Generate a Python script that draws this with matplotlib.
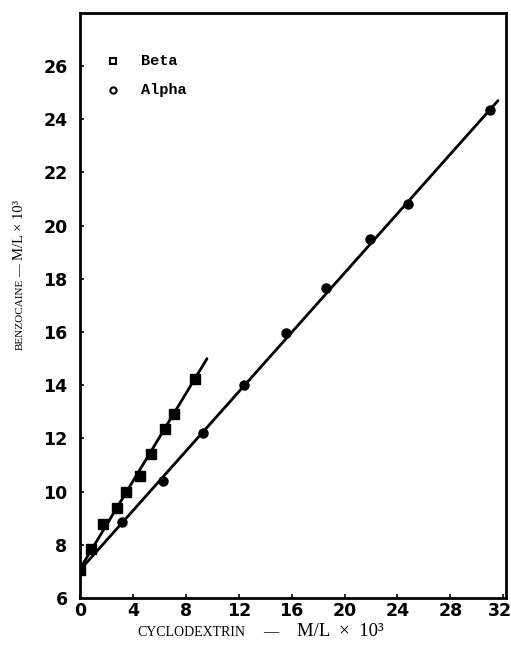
import matplotlib.pyplot as plt
from matplotlib.transforms import ScaledTranslation

# cyclodextrin concentration (M/L x 10^3) vs benzocaine solubility (M/L x 10^3)
beta_x = [0, 0.8, 1.7, 2.8, 3.5, 4.5, 5.4, 6.4, 7.1, 8.7]
beta_y = [7.05, 7.85, 8.8, 9.4, 10.0, 10.6, 11.4, 12.35, 12.9, 14.25]
alpha_x = [0, 3.2, 6.3, 9.3, 12.4, 15.6, 18.6, 21.9, 24.8, 31.0]
alpha_y = [7.05, 8.85, 10.4, 12.2, 14.0, 15.95, 17.65, 19.5, 20.8, 24.35]

# drawn straight lines (end points)
beta_fit_x = [0, 9.6]
beta_fit_y = [7.1, 15.0]
alpha_fit_x = [0, 31.6]
alpha_fit_y = [7.05, 24.7]

x_ticks = [0, 4, 8, 12, 16, 20, 24, 28, 32]
y_ticks = [6, 8, 10, 12, 14, 16, 18, 20, 22, 24, 26]

fig = plt.figure(figsize=(5.11, 6.46), dpi=100)
W, H = 511.0, 646.0
ax = fig.add_axes([0.1566, 0.0743, 0.8334, 0.9057])

ax.plot(beta_fit_x, beta_fit_y, color="black", lw=2, solid_capstyle="round")
ax.plot(alpha_fit_x, alpha_fit_y, color="black", lw=2, solid_capstyle="round")
ax.plot(beta_x, beta_y, "s", color="black", ms=6.5, ls="none")
ax.plot(alpha_x, alpha_y, "o", color="black", ms=6.5, ls="none")

ax.set_xlim(0, 32.2)
ax.set_ylim(6, 28)
ax.set_xticks(x_ticks)
ax.set_yticks(y_ticks)
ax.tick_params(direction="in", length=3, width=1.2, labelsize=12.5)
ax.tick_params(axis="x", pad=3)
ax.tick_params(axis="y", pad=9)
for lab in ax.get_xticklabels() + ax.get_yticklabels():
    lab.set_fontweight("bold")
# keep the last x label inside the figure
last = ax.get_xticklabels()[-1]
last.set_horizontalalignment("right")
last.set_transform(last.get_transform() + ScaledTranslation(0.09, 0, fig.dpi_scale_trans))
for s in ax.spines.values():
    s.set_linewidth(2)

# legend drawn by hand
ax.plot([2.5], [26.2], "s", mfc="white", mec="black", mew=1.5, ms=4.5)
ax.plot([2.5], [25.1], "o", mfc="white", mec="black", mew=1.5, ms=4.5)
ax.text(4.6, 26.2, "Beta", family="Liberation Mono", fontweight="bold",
        fontsize=11, va="center")
ax.text(4.6, 25.1, "Alpha", family="Liberation Mono", fontweight="bold",
        fontsize=11, va="center")

# x axis label (small caps word + larger units)
yb = (H - 636) / H
fig.text(137 / W, yb, "CYCLODEXTRIN", family="Liberation Serif", fontsize=10,
         ha="left", va="baseline")
fig.text(263 / W, yb, "—", family="Liberation Serif", fontsize=11,
         ha="left", va="baseline")
fig.text(297 / W, yb, "M/L  ×  10³", family="Liberation Serif", fontsize=13.5,
         ha="left", va="baseline")

# y axis label
xb = 23 / W
fig.text(xb, (H - 350) / H, "BENZOCAINE", family="Liberation Serif", fontsize=8,
         rotation=90, rotation_mode="anchor", ha="left", va="baseline")
fig.text(xb, (H - 277) / H, "—", family="Liberation Serif", fontsize=9,
         rotation=90, rotation_mode="anchor", ha="left", va="baseline")
fig.text(xb, (H - 260) / H, "M/L × 10³", family="Liberation Serif", fontsize=10.5,
         rotation=90, rotation_mode="anchor", ha="left", va="baseline")

fig.savefig("out.png", dpi=100)
